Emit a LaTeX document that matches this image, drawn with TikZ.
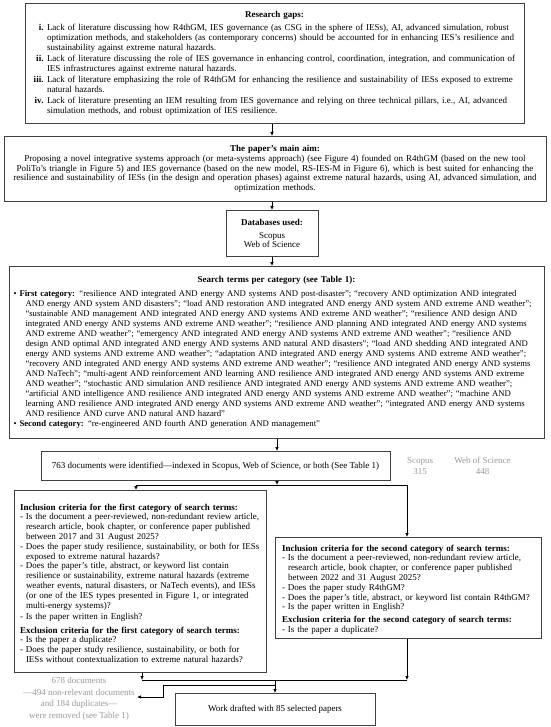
\documentclass[tikz,border=0pt]{standalone}
\usepackage{fontspec}
\setmainfont{Liberation Serif}
\usetikzlibrary{arrows.meta,calc}
\newcommand{\JLine}[2]{\par\noindent\hspace*{#1}\makebox[\dimexpr\linewidth-#1\relax][s]{#2}\par}
\newcommand{\FLine}[2]{\par\noindent\hspace*{#1}#2\par}
\newcommand{\gaplbl}[1]{\makebox[16pt][r]{\textbf{#1}\hspace{3.5pt}}}
\newcommand{\dashlbl}{\makebox[6pt][l]{-}}
\newcommand{\bulletlbl}{\makebox[6pt][l]{•}}
\definecolor{boxline}{HTML}{404040}
\definecolor{graytext}{HTML}{9A9A9A}
\tikzset{
  box/.style={draw=boxline, line width=0.9pt, inner xsep=6pt, inner ysep=3pt,
    font=\fontsize{9}{9.8}\selectfont\setlength{\parskip}{0pt}},
  arr/.style={-{Latex[length=4pt,width=3.6pt]}, line width=0.75pt},
  ln/.style={line width=0.75pt},
  gtext/.style={text=graytext, font=\fontsize{9}{11.5}\selectfont, inner sep=0pt}
}
\begin{document}
\begin{tikzpicture}[x=1pt,y=-1pt]
\fill[white] (0,0) rectangle (550,727);
\useasboundingbox (0,0) rectangle (550,727);

% Research gaps
\node[box, anchor=north, minimum width=499pt, minimum height=120pt, text width=487pt] (gaps) at (274.5,3) {%
{\centering\textbf{Research gaps:}\par}
\vspace{3pt}
\JLine{0pt}{\gaplbl{i.}Lack of literature discussing how R4thGM, IES governance (as CSG in the sphere of IESs), AI, advanced simulation, robust}
\JLine{16pt}{optimization methods, and stakeholders (as contemporary concerns) should be accounted for in enhancing IES’s resilience and}
\FLine{16pt}{sustainability against extreme natural hazards.}
\vspace{1.5pt}
\JLine{0pt}{\gaplbl{ii.}Lack of literature discussing the role of IES governance in enhancing control, coordination, integration, and communication of}
\FLine{16pt}{IES infrastructures against extreme natural hazards.}
\vspace{1.5pt}
\JLine{0pt}{\gaplbl{iii.}Lack of literature emphasizing the role of R4thGM for enhancing the resilience and sustainability of IESs exposed to extreme}
\FLine{16pt}{natural hazards.}
\vspace{1.5pt}
\JLine{0pt}{\gaplbl{iv.}Lack of literature presenting an IEM resulting from IES governance and relying on three technical pillars, i.e., AI, advanced}
\FLine{16pt}{simulation methods, and robust optimization of IES resilience.}
};

% Main aim
\node[box, anchor=north, minimum width=542pt, minimum height=65pt, text width=530pt, align=center] (aim) at (275,136) {%
\textbf{The paper’s main aim:}\\
Proposing a novel integrative systems approach (or meta-systems approach) (see Figure 4) founded on R4thGM (based on the new tool\\
PoliTo’s triangle in Figure 5) and IES governance (based on the new model, RS-IES-M in Figure 6), which is best suited for enhancing the\\
resilience and sustainability of IESs (in the design and operation phases) against extreme natural hazards, using AI, advanced simulation, and\\
optimization methods.};

% Databases
\node[box, anchor=north, minimum width=92pt, minimum height=46pt, inner xsep=3pt, align=center] (db) at (272,210) {%
\textbf{Databases used:}\\[3pt]
Scopus\\
Web of Science};

% Search terms
\node[box, anchor=north, minimum width=535pt, minimum height=172pt, text width=526pt, inner xsep=4.5pt,
  font=\fontsize{8.7}{10}\selectfont\setlength{\parskip}{0pt}] (search) at (276.5,266) {%
{\centering\fontsize{9}{10}\selectfont\textbf{Search terms per category (see Table 1):}\par}
\vspace{4.5pt}
\JLine{0pt}{\bulletlbl\textbf{First category:} “resilience AND integrated AND energy AND systems AND post-disaster”; “recovery AND optimization AND integrated}
\JLine{12pt}{AND energy AND system AND disasters”; “load AND restoration AND integrated AND energy AND system AND extreme AND weather”;}
\JLine{12pt}{“sustainable AND management AND integrated AND energy AND systems AND extreme AND weather”; “resilience AND design AND}
\JLine{12pt}{integrated AND energy AND systems AND extreme AND weather”; “resilience AND planning AND integrated AND energy AND systems}
\JLine{12pt}{AND extreme AND weather”; “emergency AND integrated AND energy AND systems AND extreme AND weather”; “resilience AND}
\JLine{12pt}{design AND optimal AND integrated AND energy AND systems AND natural AND disasters”; “load AND shedding AND integrated AND}
\JLine{12pt}{energy AND systems AND extreme AND weather”; “adaptation AND integrated AND energy AND systems AND extreme AND weather”;}
\JLine{12pt}{“recovery AND integrated AND energy AND systems AND extreme AND weather”; “resilience AND integrated AND energy AND systems}
\JLine{12pt}{AND NaTech”; “multi-agent AND reinforcement AND learning AND resilience AND integrated AND energy AND systems AND extreme}
\JLine{12pt}{AND weather”; “stochastic AND simulation AND resilience AND integrated AND energy AND systems AND extreme AND weather”;}
\JLine{12pt}{“artificial AND intelligence AND resilience AND integrated AND energy AND systems AND extreme AND weather”; “machine AND}
\JLine{12pt}{learning AND resilience AND integrated AND energy AND systems AND extreme AND weather”; “integrated AND energy AND systems}
\FLine{12pt}{AND resilience AND curve AND natural AND hazard”}
\FLine{0pt}{\bulletlbl\textbf{Second category:} “re-engineered AND fourth AND generation AND management”}
};

% Identified
\node[box, anchor=north, minimum width=349pt, minimum height=29pt] (ident) at (215.5,451) {763 documents were identified—indexed in Scopus, Web of Science, or both (See Table 1)};
\node[gtext, align=center] (scopus) at (420,466) {Scopus\\315};
\node[gtext, align=center] (wos) at (482.5,466) {Web of Science\\448};

% Left criteria
\node[box, anchor=north, minimum width=252pt, minimum height=182pt, text width=240pt] (left) at (140,490) {%
\FLine{0pt}{\textbf{Inclusion criteria for the first category of search terms:}}
\JLine{0pt}{\dashlbl Is the document a peer-reviewed, non-redundant review article,}
\JLine{6pt}{research article, book chapter, or conference paper published}
\FLine{6pt}{between 2017 and 31 August 2025?}
\JLine{0pt}{\dashlbl Does the paper study resilience, sustainability, or both for IESs}
\FLine{6pt}{exposed to extreme natural hazards?}
\JLine{0pt}{\dashlbl Does the paper’s title, abstract, or keyword list contain}
\JLine{6pt}{resilience or sustainability, extreme natural hazards (extreme}
\JLine{6pt}{weather events, natural disasters, or NaTech events), and IESs}
\JLine{6pt}{(or one of the IES types presented in Figure 1, or integrated}
\FLine{6pt}{multi-energy systems)?}
\vspace{1.5pt}
\FLine{0pt}{\dashlbl Is the paper written in English?}
\vspace{4pt}
\FLine{0pt}{\textbf{Exclusion criteria for the first category of search terms:}}
\FLine{0pt}{\dashlbl Is the paper a duplicate?}
\JLine{0pt}{\dashlbl Does the paper study resilience, sustainability, or both for}
\FLine{6pt}{IESs without contextualization to extreme natural hazards?}
};

% Right criteria
\node[box, anchor=north, minimum width=266pt, minimum height=101pt, text width=252pt, inner xsep=7pt] (right) at (408,537) {%
\FLine{0pt}{\textbf{Inclusion criteria for the second category of search terms:}}
\JLine{0pt}{\dashlbl Is the document a peer-reviewed, non-redundant review article,}
\JLine{6pt}{research article, book chapter, or conference paper published}
\FLine{6pt}{between 2022 and 31 August 2025?}
\FLine{0pt}{\dashlbl Does the paper study R4thGM?}
\FLine{0pt}{\dashlbl Does the paper’s title, abstract, or keyword list contain R4thGM?}
\FLine{0pt}{\dashlbl Is the paper written in English?}
\vspace{3pt}
\FLine{0pt}{\textbf{Exclusion criteria for the second category of search terms:}}
\FLine{0pt}{\dashlbl Is the paper a duplicate?}
};

% Final
\node[box, anchor=north, minimum width=200pt, minimum height=32pt] (final) at (275,693) {Work drafted with 85 selected papers};

% Removed
\node[gtext, align=center] (removed) at (79,699) {678 documents\\—494 non-relevant documents\\and 184 duplicates—\\were removed (see Table 1)};

% coordinates
\coordinate (split) at (277,485);
\coordinate (splitL) at (136,485);
\coordinate (splitR) at (407,485);
\coordinate (mergeL) at (142,680);
\coordinate (mergeR) at (407,680);
\coordinate (mergeC) at (275,680);
\coordinate (brA) at (275,685);
\coordinate (brB) at (163,685);
\coordinate (brC) at (163,697);
\coordinate (remtip) at (137,697);

% connectors
\draw[arr] (gaps.south -| db.north) -- (aim.north -| db.north);
\draw[arr] (aim.south -| db.north) -- (db.north);
\draw[arr] (db.south) -- (search.north -| db.south);
\draw[arr] (search.south -| split) -- (ident.north -| split);
\draw[arr] (ident.south -| split) -- (split);
\draw[ln] (splitL) -- (splitR);
\draw[arr] (splitL) -- (left.north -| splitL);
\draw[arr] (splitR) -- (right.north -| splitR);
\draw[arr] (left.south -| mergeL) -- (mergeL);
\draw[arr] (right.south -| mergeR) -- (mergeR);
\draw[ln] (mergeL) -- (mergeR);
\draw[arr] (mergeC) -- (final.north -| mergeC);
\draw[arr] (brA) -- (brB) -- (brC) -- (remtip);
\end{tikzpicture}
\end{document}
